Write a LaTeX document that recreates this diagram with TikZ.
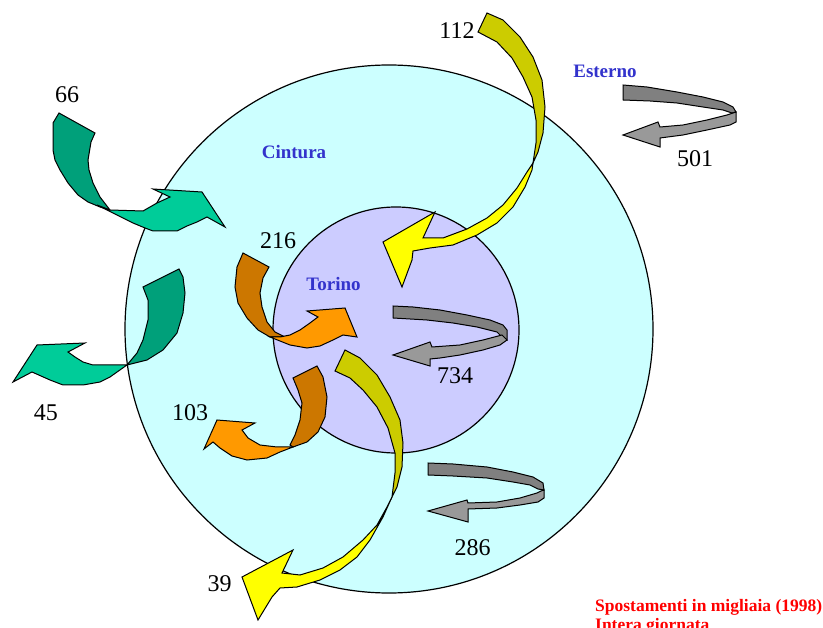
\documentclass[tikz,border=0pt]{standalone}
\usepackage{fontspec}
\setmainfont{Liberation Serif}
\definecolor{cintfill}{HTML}{CCFFFF}
\definecolor{torfill}{HTML}{CCCCFF}
\definecolor{greenD}{HTML}{00A07A}
\definecolor{greenL}{HTML}{00CC99}
\definecolor{oliveD}{HTML}{CCCC00}
\definecolor{yellowL}{HTML}{FFFF00}
\definecolor{brownD}{HTML}{CC7700}
\definecolor{orangeL}{HTML}{FF9900}
\definecolor{greyD}{HTML}{808080}
\definecolor{greyL}{HTML}{999999}
\definecolor{zoneblue}{HTML}{3333CC}
\tikzset{
  ring/.style={draw=black, line width=1.2pt},
  band/.style={draw=black, line width=1pt, line join=miter},
  numlabel/.style={font=\fontsize{24}{28}\selectfont, inner sep=0pt},
  zonelabel/.style={font=\bfseries\fontsize{19}{22}\selectfont, text=zoneblue, inner sep=0pt},
  notelabel/.style={font=\bfseries\fontsize{17.5}{20}\selectfont, text=red, inner sep=0pt, anchor=base west},
}
\begin{document}
\begin{tikzpicture}[x=1pt,y=-1pt]
\useasboundingbox (0,0) rectangle (823,628);
% zones
\draw[ring, fill=cintfill] (389,329) circle[radius=264pt];
\draw[ring, fill=torfill] (396,330) circle[radius=123pt];

% 66 : Esterno -> Cintura (green)
\draw[band, fill=greenD] (59,113) -- (95,133) -- (91,142) -- (88,160) -- (89,170) -- (93,183) -- (100,197) -- (110,210) -- (100,207) -- (88,202) -- (78,195) -- (68,183) -- (60,170) -- (55,160) -- (53,150) -- (53,123) -- cycle;
\draw[band, fill=greenL] (97,205) -- (110,210) -- (143,211) -- (150,207) -- (157,203) -- (170,197) -- (153,189) -- (202,192) -- (225,227) -- (207,217) -- (197,222) -- (187,226) -- (177,231) -- (153,231) -- (145,228) -- (133,223) -- cycle;

% 45 : Cintura -> Esterno (green)
\draw[band, fill=greenD] (143,287) -- (179,269) -- (183,277) -- (185,293) -- (183,313) -- (177,333) -- (163,350) -- (147,360) -- (127,365) -- (137,353) -- (143,340) -- (148,320) -- (148,300) -- cycle;
\draw[band, fill=greenL] (127,365) -- (93,365) -- (83,362) -- (75,357) -- (68,352) -- (85,343) -- (37,345) -- (13,382) -- (32,372) -- (50,380) -- (63,385) -- (83,385) -- (100,382) -- (110,377) -- cycle;

% 112 : Esterno -> Torino (yellow)
\draw[band, fill=oliveD] (478,32) -- (487,13) -- (503,20) -- (520,37) -- (533,57) -- (542,80) -- (545,107) -- (543,133) -- (538,152) -- (533,163) -- (536,143) -- (536,120) -- (532,97) -- (523,77) -- (512,58) -- (497,42) -- cycle;
\draw[band, fill=yellowL] (533,163) -- (532,170) -- (525,187) -- (513,207) -- (497,223) -- (477,235) -- (453,245) -- (430,248) -- (413,251) -- (412,260) -- (402,287) -- (383,242) -- (435,212) -- (423,238) -- (443,238) -- (467,229) -- (487,218) -- (503,205) -- (517,188) -- (527,172) -- cycle;

% 39 : Torino -> Esterno (yellow)
\draw[band, fill=oliveD] (335,371) -- (345,350) -- (360,358) -- (377,375) -- (390,397) -- (400,420) -- (403,443) -- (402,467) -- (397,487) -- (392,497) -- (395,473) -- (395,453) -- (388,428) -- (377,407) -- (363,390) -- (350,378) -- cycle;
\draw[band, fill=yellowL] (392,497) -- (383,517) -- (370,540) -- (357,557) -- (340,570) -- (320,580) -- (297,587) -- (280,588) -- (272,597) -- (258,620) -- (242,577) -- (293,550) -- (282,573) -- (300,575) -- (323,568) -- (343,557) -- (363,540) -- (377,525) -- (387,507) -- cycle;

% 216 : Cintura -> Torino (orange)
\draw[band, fill=brownD] (243,253) -- (269,267) -- (263,278) -- (260,293) -- (262,307) -- (267,322) -- (275,332) -- (285,337) -- (270,337) -- (258,330) -- (247,318) -- (238,303) -- (235,287) -- (237,267) -- cycle;
\draw[band, fill=orangeL] (270,337) -- (290,345) -- (307,348) -- (320,346) -- (333,340) -- (343,335) -- (357,337) -- (345,308) -- (307,311) -- (318,317) -- (310,323) -- (300,330) -- (290,335) -- (280,337) -- cycle;

% 103 : Torino -> Cintura (orange)
\draw[band, fill=brownD] (293,378) -- (317,366) -- (323,377) -- (327,397) -- (325,417) -- (318,432) -- (307,442) -- (293,447) -- (290,445) -- (295,435) -- (300,420) -- (302,403) -- (298,390) -- cycle;
\draw[band, fill=orangeL] (293,447) -- (280,452) -- (267,458) -- (247,460) -- (232,456) -- (220,448) -- (213,442) -- (204,449) -- (217,420) -- (255,423) -- (242,430) -- (248,438) -- (260,445) -- (277,447) -- cycle;

% 734 : Torino internal (grey)
\draw[band, fill=greyD] (393,306) -- (413,307) -- (440,310) -- (467,315) -- (490,320) -- (503,325) -- (507,330) -- (507,340) -- (502,337) -- (497,332) -- (477,327) -- (453,323) -- (427,320) -- (393,318) -- cycle;
\draw[band, fill=greyL] (507,340) -- (500,345) -- (483,350) -- (460,355) -- (440,358) -- (430,359) -- (430,366) -- (393,355) -- (430,342) -- (432,347) -- (460,345) -- (483,340) -- (502,335) -- cycle;

% 286 : Cintura internal (grey)
\draw[band, fill=greyD] (428,463) -- (453,464) -- (487,467) -- (513,472) -- (533,477) -- (543,483) -- (544,490) -- (538,489) -- (530,485) -- (513,482) -- (487,478) -- (453,476) -- (428,475) -- cycle;
\draw[band, fill=greyL] (544,490) -- (544,498) -- (538,502) -- (520,505) -- (497,508) -- (468,509) -- (468,522) -- (428,511) -- (467,500) -- (468,503) -- (497,502) -- (520,498) -- (537,493) -- (541,491) -- cycle;

% 501 : Esterno internal (grey)
\draw[band, fill=greyD] (623,85) -- (647,87) -- (677,92) -- (703,97) -- (723,102) -- (733,107) -- (736,112) -- (732,113) -- (723,110) -- (703,107) -- (677,103) -- (650,101) -- (623,100) -- cycle;
\draw[band, fill=greyL] (736,112) -- (736,122) -- (730,125) -- (707,130) -- (683,135) -- (660,138) -- (660,147) -- (623,135) -- (658,122) -- (660,127) -- (683,125) -- (707,120) -- (727,115) -- (733,113) -- cycle;

% labels
\node[zonelabel] (esterno) at (605,71) {Esterno};
\node[zonelabel] (cintura) at (294,152.5) {Cintura};
\node[zonelabel] (torino) at (333.5,284.5) {Torino};

\node[numlabel] (n66) at (67,94.5) {66};
\node[numlabel] (n112) at (457,31) {112};
\node[numlabel] (n501) at (695,158.5) {501};
\node[numlabel] (n216) at (278,241) {216};
\node[numlabel] (n734) at (455,375.5) {734};
\node[numlabel] (n45) at (46,413) {45};
\node[numlabel] (n103) at (190,413) {103};
\node[numlabel] (n286) at (472.5,548) {286};
\node[numlabel] (n39) at (219.5,583.5) {39};

\node[notelabel] (note1) at (595,611) {Spostamenti in migliaia (1998)};
\node[notelabel] (note2) at (595,630) {Intera giornata};
\end{tikzpicture}
\end{document}
